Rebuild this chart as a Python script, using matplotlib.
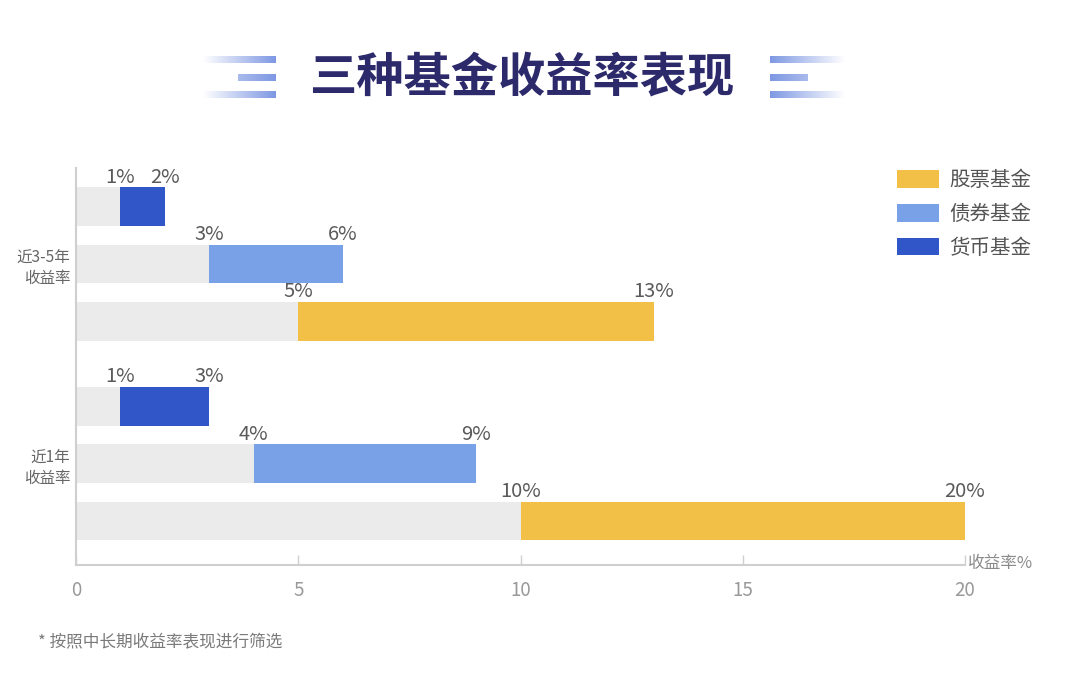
import numpy as np
import matplotlib
matplotlib.use("Agg")
import matplotlib.pyplot as plt
from matplotlib.patches import Patch

plt.rcParams['font.family'] = ['Noto Sans CJK SC', 'DejaVu Sans']

# ---------------- data ----------------
title = "三种基金收益率表现"
groups = ["近3-5年\n收益率", "近1年\n收益率"]
funds_top_to_bottom = ["货币基金", "债券基金", "股票基金"]
legend_order = ["股票基金", "债券基金", "货币基金"]
low_3to5 = [1, 3, 5]      # money, bond, stock
high_3to5 = [2, 6, 13]
low_1y = [1, 4, 10]
high_1y = [3, 9, 20]
xticks = [0, 5, 10, 15, 20]
x_unit = "收益率%"
footnote = "* 按照中长期收益率表现进行筛选"

colors = {"股票基金": "#f2bf47", "债券基金": "#78a1e8", "货币基金": "#3156c8"}
gray = "#ebebeb"

# ---------------- figure ----------------
W, H = 1080, 677
fig = plt.figure(figsize=(W / 100, H / 100), dpi=100)
fig.patch.set_facecolor("white")

ax_l, ax_r, ax_t, ax_b = 76, 965, 168, 565
ax = fig.add_axes([ax_l / W, 1 - ax_b / H, (ax_r - ax_l) / W, (ax_b - ax_t) / H])

pos_groups = [[0, 1, 2], [3.5, 4.5, 5.5]]
bar_h = 0.68
lows = [low_3to5, low_1y]
highs = [high_3to5, high_1y]
for g in range(2):
    for i, fund in enumerate(funds_top_to_bottom):
        y = pos_groups[g][i]
        lo, hi = lows[g][i], highs[g][i]
        ax.barh(y, lo, height=bar_h, color=gray, left=0, zorder=2)
        ax.barh(y, hi - lo, height=bar_h, left=lo, color=colors[fund], zorder=2)
        for v in (lo, hi):
            ax.annotate(f"{v}%", xy=(v, y - bar_h / 2), xytext=(0, 3.5),
                        textcoords="offset points", ha="center", va="baseline",
                        fontsize=14.5, color="#5a5a5a", zorder=3)

ax.set_xlim(0, 20)
ax.set_ylim(6.27, -0.68)

for s in ["top", "right"]:
    ax.spines[s].set_visible(False)
for s in ["left", "bottom"]:
    ax.spines[s].set_color("#cfcfcf")
    ax.spines[s].set_linewidth(1.5)

ax.set_xticks(xticks)
ax.set_xticklabels([str(t) for t in xticks])
ax.tick_params(axis="x", direction="in", length=7, width=1, color="#cfcfcf",
               labelsize=13.5, labelcolor="#999999", pad=11)
ax.set_yticks([1, 4.5])
ax.set_yticklabels(groups, fontsize=11.2, color="#666666", linespacing=1.3)
ax.tick_params(axis="y", length=0, pad=4)
for lab in ax.get_yticklabels():
    lab.set_multialignment("right")

ax.text(1.003, 0.005, x_unit, transform=ax.transAxes, ha="left", va="center",
        fontsize=12, color="#8a8a8a")

# legend
handles = [Patch(facecolor=colors[f], edgecolor="none") for f in legend_order]
leg = ax.legend(handles, legend_order, loc="upper left",
                bbox_to_anchor=(897 / W, 1 - 169 / H), bbox_transform=fig.transFigure,
                frameon=False, fontsize=14.8, handlelength=2.05, handleheight=0.92,
                handletextpad=0.5, labelspacing=0.58, borderpad=0, borderaxespad=0)
for t in leg.get_texts():
    t.set_color("#555555")

# ---------------- overlay: title + decorations + footnote ----------------
ov = fig.add_axes([0, 0, 1, 1], zorder=-1)
ov.axis("off")

deco_rgb = np.array([0x6f, 0x8c, 0xe0]) / 255.0

def grad_bar(x0, x1, y0, y1, a0, a1):
    n = 200
    arr = np.zeros((1, n, 4))
    arr[..., :3] = deco_rgb
    arr[..., 3] = np.linspace(a0, a1, n)
    ov.imshow(arr, extent=(x0, x1, y1, y0), aspect="auto", interpolation="bilinear")

# left decoration
grad_bar(203, 276, 56, 63, 0.0, 0.9)
grad_bar(238, 276, 74, 81, 0.6, 0.9)
grad_bar(203, 276, 91, 98, 0.0, 0.9)
# right decoration
grad_bar(770, 845, 56, 63, 0.9, 0.0)
grad_bar(770, 808, 74, 81, 0.9, 0.6)
grad_bar(770, 845, 91, 98, 0.9, 0.0)
ov.set_xlim(0, W)
ov.set_ylim(H, 0)

fig.text(522 / W, 1 - 78 / H, title, ha="center", va="center", fontsize=34,
         fontweight="heavy", color="#2d2a6b")
fig.text(38 / W, 1 - 643 / H, footnote, ha="left", va="center", fontsize=12,
         color="#7a7a7a")

fig.savefig("out.png", dpi=100, facecolor="white")
